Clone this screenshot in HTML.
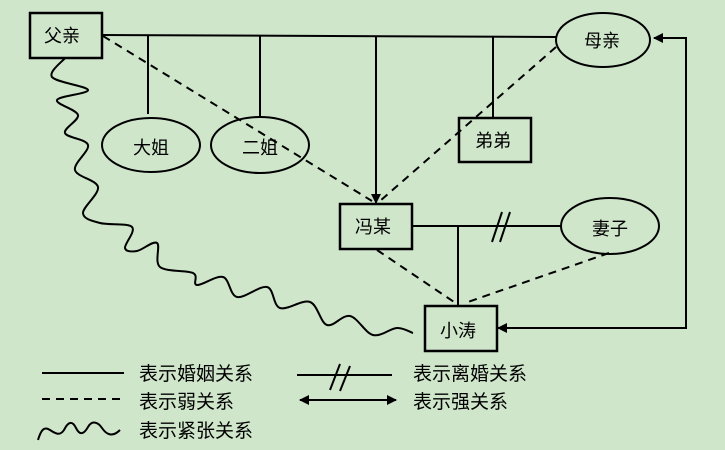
<!DOCTYPE html>
<html><head><meta charset="utf-8"><style>
html,body{margin:0;padding:0;background:#cfe6cb;}
svg{display:block;}
text{font-family:"Liberation Sans","Noto Sans CJK SC",sans-serif;font-size:18px;fill:#000;}
text.l{font-size:19px;}
</style></head><body>
<svg width="725" height="450" viewBox="0 0 725 450" xmlns="http://www.w3.org/2000/svg">
<defs>
<marker id="ah" markerWidth="10" markerHeight="10" refX="9" refY="5" orient="auto" markerUnits="userSpaceOnUse"><path d="M0,0 L10,5 L0,10 z" fill="#000"/></marker>
<marker id="ahs" markerWidth="10" markerHeight="10" refX="1" refY="5" orient="auto" markerUnits="userSpaceOnUse"><path d="M10,0 L0,5 L10,10 z" fill="#000"/></marker>
</defs>
<g stroke="#000" stroke-width="2" fill="none">
<line x1="102" y1="35" x2="556" y2="37"/>
<line x1="148" y1="35" x2="148" y2="114"/>
<line x1="260" y1="36" x2="260" y2="118"/>
<line x1="493" y1="37" x2="493" y2="118"/>
<line x1="376" y1="36" x2="376" y2="203" marker-end="url(#ah)"/>
<g stroke-dasharray="8,6">
<line x1="103" y1="36" x2="372" y2="201"/>
<line x1="556" y1="47" x2="380" y2="201"/>
<line x1="377" y1="250" x2="457" y2="304"/>
<line x1="609" y1="253" x2="465" y2="303"/>
</g>
<line x1="412" y1="226" x2="562" y2="226"/>
<line x1="458" y1="226" x2="458" y2="305"/>
<line x1="492" y1="242" x2="502" y2="212"/>
<line x1="500" y1="242" x2="510" y2="212"/>
<polyline points="498,328 686,328 686,38 654,38" marker-start="url(#ahs)" marker-end="url(#ah)"/>
<path stroke-linejoin="round" d="M65,58 C62.8,61.2 48.2,71.7 52,77 C55.8,82.3 87.2,86.2 88,90 C88.8,93.8 58.7,95.8 57,100 C55.3,104.2 76.7,109.5 78,115 C79.3,120.5 63.3,128 65,133 C66.7,138 86.3,138.8 88,145 C89.7,151.2 73.3,163 75,170 C76.7,177 96.7,179.8 98,187 C99.3,194.2 82.7,207 83,213 C83.3,219 91.8,220.7 100,223 C108.2,225.3 127.8,222.8 132,227 C136.2,231.2 124.2,244 125,248 C125.8,252 131.7,251.8 137,251 C142.3,250.2 153.2,240.3 157,243 C160.8,245.7 154,262 160,267 C166,272 186.8,270 193,273 C199.2,276 192,284.3 197,285 C202,285.7 216.3,275 223,277 C229.7,279 229.7,295.3 237,297 C244.3,298.7 259.8,285.2 267,287 C274.2,288.8 272.8,305.5 280,308 C287.2,310.5 302.2,299.2 310,302 C317.8,304.8 320.3,322.7 327,325 C333.7,327.3 342.3,314.3 350,316 C357.7,317.7 365.2,333 373,335 C380.8,337 390.3,328.3 397,328 C403.7,327.7 410.3,332.2 413,333"/>
<rect x="30" y="13" width="72" height="45" stroke-width="2.5"/>
<ellipse cx="603" cy="40" rx="47" ry="27"/>
<ellipse cx="151" cy="145" rx="49" ry="27"/>
<ellipse cx="260" cy="145" rx="49" ry="28"/>
<rect x="459" y="118" width="72" height="44" stroke-width="2.5"/>
<rect x="340" y="204" width="72" height="45" stroke-width="2.5"/>
<ellipse cx="610" cy="226" rx="49" ry="28"/>
<rect x="425" y="306" width="72" height="45" stroke-width="2.5"/>
<line x1="42" y1="373" x2="124" y2="373"/>
<line x1="42" y1="399" x2="124" y2="399" stroke-dasharray="8,6"/>
<path d="M38,440 C41,430 44,426 50,430 C56,434 60,436 64,430 C68,422 72,420 76,428 C80,436 84,434 88,427 C92,420 98,422 102,428 C106,434 112,438 120,430"/>
<line x1="297" y1="375" x2="392" y2="375"/>
<line x1="330" y1="390" x2="340" y2="364"/>
<line x1="340" y1="391" x2="350" y2="366"/>
<line x1="300" y1="400" x2="396" y2="400" marker-start="url(#ahs)" marker-end="url(#ah)"/>
</g>
<text x="44" y="42">父亲</text>
<text x="584" y="47">母亲</text>
<text x="133" y="154">大姐</text>
<text x="242" y="154">二姐</text>
<text x="475" y="147">弟弟</text>
<text x="355" y="233">冯某</text>
<text x="592" y="235">妻子</text>
<text x="440" y="337">小涛</text>
<text class="l" x="139" y="380">表示婚姻关系</text>
<text class="l" x="139" y="408">表示弱关系</text>
<text class="l" x="139" y="437">表示紧张关系</text>
<text class="l" x="413" y="380">表示离婚关系</text>
<text class="l" x="413" y="408">表示强关系</text>
</svg>
</body></html>
